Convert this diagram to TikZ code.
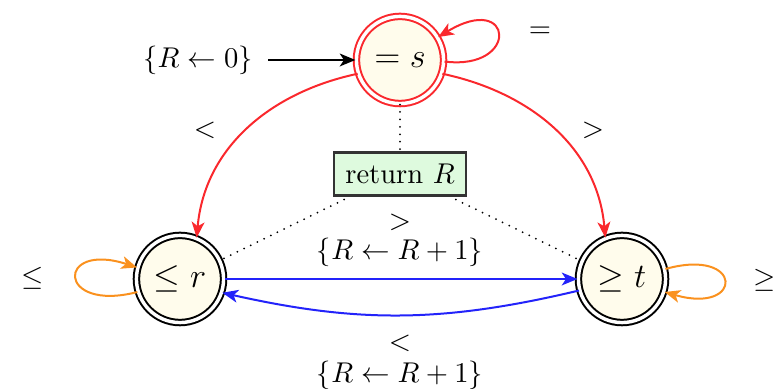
\documentclass[tikz,border=0pt]{standalone}
\usetikzlibrary{arrows.meta}
\definecolor{cream}{RGB}{255,252,236}
\definecolor{boxgreen}{RGB}{222,250,222}
\definecolor{myred}{RGB}{250,40,45}
\definecolor{myblue}{RGB}{35,35,250}
\definecolor{myorange}{RGB}{250,145,30}
\begin{document}
\begin{tikzpicture}[x=0.35pt,y=0.35pt,
  state/.style={circle, draw, double, double distance=1.2pt, line width=0.7pt,
    fill=cream, minimum size=30.5pt, inner sep=0pt, font=\large},
  retbox/.style={rectangle, draw=black!80, line width=0.8pt, fill=boxgreen,
    minimum width=46pt, minimum height=15pt, inner sep=1pt},
  tip/.style={-{Stealth[length=5.5pt,width=4.5pt,inset=1.5pt]}},
  edge/.style={line width=0.7pt, tip},
  dotline/.style={line width=0.7pt, dash pattern=on 0pt off 2.6pt, line cap=round},
  lab/.style={inner sep=0pt}]
\useasboundingbox (0,0) rectangle (784,389);

\node[state, draw=myred] (s) at (400,329) {$=s$};
\node[state, draw=black] (r) at (180,110) {$\leq r$};
\node[state, draw=black] (t) at (622,110) {$\geq t$};
\node[retbox] (b) at (400,215) {return $R$};

% initial
\node[lab] (init) at (198,329) {$\{R\leftarrow 0\}$};
\coordinate (istart) at (268,329);
\draw[edge, black] (istart) -- (s.west);

% s edges
\draw[edge, myred] (s.198) to[out=192, in=85] (r.68);
\node[lab] (lt1) at (205,259) {$<$};
\draw[edge, myred] (s.-18) to[out=-12, in=95] (t.112);
\node[lab] (gt1) at (593,259) {$>$};
\draw[edge, myred] (s.-2) .. controls (520,318) and (514,398) .. (s.31);
\node[lab] (eq) at (540,357) {$=$};

% loops r, t
\draw[edge, myorange] (r.197) .. controls (56,76) and (56,148) .. (r.165);
\node[lab] (le) at (33,111) {$\leq$};
\draw[edge, myorange] (t.13) .. controls (744,142) and (744,74) .. (t.-17);
\node[lab] (ge) at (765,109) {$\geq$};

% blue edges
\draw[edge, myblue] (r) -- (t);
\node[lab] (gt2) at (400,167) {$>$};
\node[lab] (inc1) at (400,137) {$\{R\leftarrow R+1\}$};
\draw[edge, myblue] (t.-165) to[bend left=13] (r.-18);
\node[lab] (lt2) at (400,46) {$<$};
\node[lab] (inc2) at (400,14) {$\{R\leftarrow R+1\}$};

% dotted
\draw[dotline] (s.south) -- (b.north);
\draw[dotline] (b.south west) ++(11,-3) -- (r.25);
\draw[dotline] (b.south east) ++(-11,-3) -- (t.156);
\end{tikzpicture}
\end{document}
